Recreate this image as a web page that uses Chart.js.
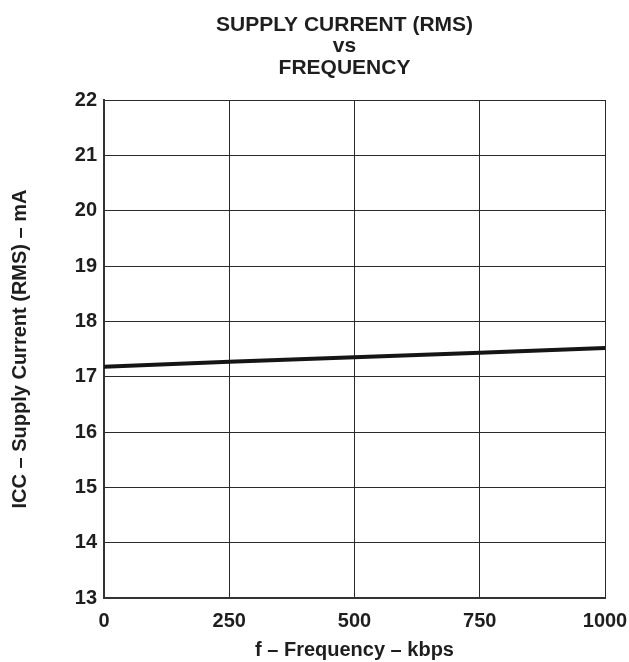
<!DOCTYPE html>
<html>
<head>
<meta charset="utf-8">
<script src="https://cdn.jsdelivr.net/npm/chart.js@4"></script>
<style>
  html, body { margin: 0; padding: 0; background: #fff; }
  #wrap { width: 629px; height: 662px; }
</style>
</head>
<body>
<div id="wrap"><canvas id="c" width="629" height="662"></canvas></div>
<script>
// Supply current (RMS) versus data rate
const frequencyKbps = [0, 250, 500, 750, 1000];
const supplyCurrentMa = [17.18, 17.27, 17.35, 17.43, 17.52];
const xTicks = [0, 250, 500, 750, 1000];
const yTicks = [13, 14, 15, 16, 17, 18, 19, 20, 21, 22];
const titleLines = ['SUPPLY CURRENT (RMS)', 'vs', 'FREQUENCY'];

const ink = '#1e1e1e';
const family = 'Arial, "Liberation Sans", Helvetica, sans-serif';
const boldFont = (size) => ({ family, size, weight: 'bold' });

// Three-line heading, centred a little left of the plot's middle
const headingPlugin = {
  id: 'heading',
  afterDraw(chart) {
    const { ctx, chartArea } = chart;
    const cx = (chartArea.left + chartArea.right) / 2 - 10;
    ctx.save();
    ctx.fillStyle = ink;
    ctx.font = `bold 21px ${family}`;
    ctx.textAlign = 'center';
    ctx.textBaseline = 'middle';
    titleLines.forEach((line, i) => {
      ctx.fillText(line, cx, 25 + i * 21.5);
    });
    ctx.restore();
  }
};

new Chart(document.getElementById('c'), {
  type: 'line',
  data: {
    datasets: [{
      data: frequencyKbps.map((f, i) => ({ x: f, y: supplyCurrentMa[i] })),
      borderColor: '#151515',
      borderWidth: 4,
      pointRadius: 0,
      tension: 0,
      fill: false
    }]
  },
  plugins: [headingPlugin],
  options: {
    responsive: false,
    animation: false,
    layout: { padding: { left: 0, right: 0, top: 100, bottom: 0 } },
    plugins: {
      legend: { display: false },
      tooltip: { enabled: false },
      title: { display: false }
    },
    scales: {
      x: {
        type: 'linear',
        min: 0,
        max: 1000,
        afterBuildTicks: (s) => { s.ticks = xTicks.map(v => ({ value: v })); },
        afterFit: (s) => { s.height = 64; s.paddingRight = 24; },
        grid: { color: '#2a2a2a', lineWidth: 1, drawTicks: false },
        border: { color: '#333', width: 2 },
        ticks: {
          color: ink,
          font: boldFont(20),
          padding: 11,
          maxRotation: 0,
          callback: (v) => String(v)
        },
        title: {
          display: true,
          text: 'f – Frequency – kbps',
          color: ink,
          font: boldFont(20),
          padding: { top: 6, bottom: 0 }
        }
      },
      y: {
        type: 'linear',
        min: 13,
        max: 22,
        afterBuildTicks: (s) => { s.ticks = yTicks.map(v => ({ value: v })); },
        afterFit: (s) => { s.width = 104; },
        grid: { color: '#2a2a2a', lineWidth: 1, drawTicks: false },
        border: { color: '#333', width: 2 },
        ticks: { color: ink, font: boldFont(20), padding: 7 },
        title: {
          display: true,
          text: 'ICC – Supply Current (RMS) – mA',
          color: ink,
          font: boldFont(20),
          padding: { top: 8, bottom: 0 }
        }
      }
    }
  }
});
</script>
</body>
</html>
